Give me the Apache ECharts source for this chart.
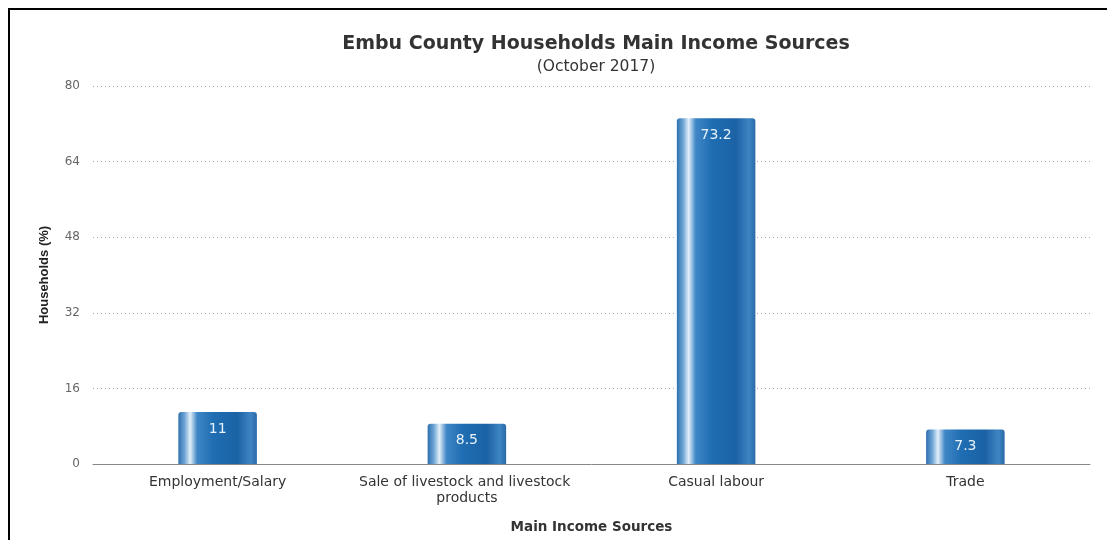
<!DOCTYPE html>
<html>
<head>
<meta charset="utf-8">
<script src="https://cdn.jsdelivr.net/npm/echarts@6/dist/echarts.min.js"></script>
<style>
  html, body { margin: 0; padding: 0; background: #fff; }
  #chart { width: 1107px; height: 540px; }
</style>
</head>
<body>
<div id="chart"></div>
<script>
const categories = ['Employment/Salary', 'Sale of livestock and livestock products', 'Casual labour', 'Trade'];
const households = [11, 8.5, 73.2, 7.3];
const yTicks = [0, 16, 32, 48, 64, 80];

// cylinder-like shading across each bar
const barFill = new echarts.graphic.LinearGradient(0, 0, 1, 0, [
  { offset: 0.00, color: '#2d6fad' },
  { offset: 0.08, color: '#6fa6d6' },
  { offset: 0.15, color: '#e3eff9' },
  { offset: 0.24, color: '#3f86c6' },
  { offset: 0.45, color: '#1f6db2' },
  { offset: 0.75, color: '#1b62a5' },
  { offset: 0.92, color: '#3d85c2' },
  { offset: 1.00, color: '#2a6aa8' }
]);

const FONT = 'DejaVu Sans';

const chart = echarts.init(document.getElementById('chart'), null, { renderer: 'canvas' });
chart.setOption({
  animation: false,
  backgroundColor: '#fff',
  title: {
    text: 'Embu County Households Main Income Sources',
    subtext: '(October 2017)',
    left: 591,
    textAlign: 'center',
    top: 30,
    itemGap: 5,
    textStyle: { fontFamily: FONT, fontSize: 19, fontWeight: 'bold', color: '#333' },
    subtextStyle: { fontFamily: FONT, fontSize: 15.5, color: '#333' }
  },
  graphic: [
    { type: 'rect', shape: { x: 8, y: 8, width: 2, height: 532 }, style: { fill: '#000' } },
    { type: 'rect', shape: { x: 8, y: 8, width: 1099, height: 2 }, style: { fill: '#000' } }
  ],
  grid: { left: 93, right: 17, top: 86, bottom: 76 },
  xAxis: {
    type: 'category',
    data: categories,
    name: 'Main Income Sources',
    nameLocation: 'middle',
    nameGap: 56,
    nameTextStyle: { fontFamily: FONT, fontSize: 13.5, fontWeight: 'bold', color: '#333' },
    axisLine: { lineStyle: { color: '#888', width: 1 } },
    axisTick: { show: false },
    axisLabel: {
      fontFamily: FONT, fontSize: 14, color: '#333', margin: 10,
      width: 225, overflow: 'break', lineHeight: 16, interval: 0
    }
  },
  yAxis: {
    type: 'value',
    min: 0, max: 80, interval: 16,
    name: 'Households (%)',
    nameLocation: 'middle',
    nameGap: 42,
    nameTextStyle: { fontFamily: 'Liberation Sans', fontSize: 13, fontWeight: 'bold', color: '#222' },
    axisLine: { show: false },
    axisTick: { show: false },
    axisLabel: {
      fontFamily: FONT, fontSize: 12, color: '#666', margin: 13,
      formatter: v => (yTicks.includes(v) ? String(v) : '')
    },
    splitLine: { lineStyle: { color: '#aaa', type: [1, 3], width: 1 } }
  },
  series: [{
    type: 'bar',
    data: households,
    barWidth: '31.5%',
    itemStyle: { color: barFill, borderRadius: [3, 3, 0, 0] },
    label: {
      show: true,
      position: 'insideTop',
      distance: 10,
      fontFamily: FONT,
      fontSize: 14,
      color: '#e6f2fc'
    }
  }]
});
</script>
</body>
</html>
